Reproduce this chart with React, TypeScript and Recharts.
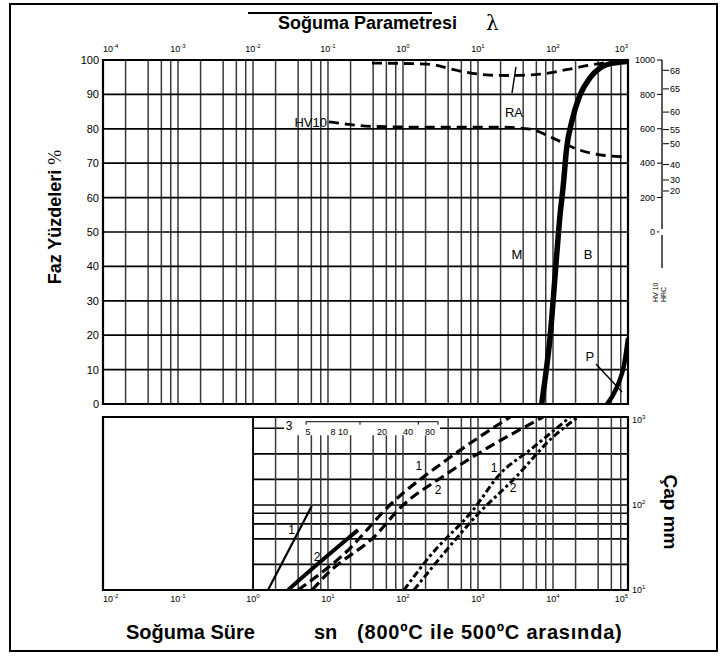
import React from 'react';
import {
  LineChart,
  Line,
  XAxis,
  YAxis,
  CartesianGrid,
  ReferenceArea,
  ReferenceDot,
  ReferenceLine,
} from 'recharts';

// ---------- axes / ticks ----------
// cooling time t (s, 800->500 °C); cooling parameter λ = t / 100
const timeDecades = [0.01, 0.1, 1, 10, 100, 1000, 10000, 100000];
const gridDecades = [0.01, 0.1, 1, 10, 100, 1000, 10000];
const gridMultipliers = [1, 2, 4, 6, 8];
const phaseTicks = [0, 10, 20, 30, 40, 50, 60, 70, 80, 90, 100];
const phaseGrid = [10, 20, 30, 40, 50, 60, 70, 80, 90];
const hvTicks = [0, 200, 400, 600, 800, 1000];
const hrcLabels = [68, 65, 60, 55, 50, 40, 30, 20];
const hrcAsHV = [940, 832, 697, 595, 513, 392, 302, 238];
const diameterTicks = [10, 100, 1000];
const diameterGrid = [20, 40, 60, 80, 100, 200, 400, 800];
const insetLabels = ['5', '8', '10', '20', '40', '80'];
const insetTimes = [5.4, 11.7, 15.8, 52.5, 117, 229];
const insetTickTimes = [5.1, 26.7, 160, 293];

// ---------- top chart curves (t in s, v in %) ----------
const raCurve = [
  { t: 38.6, v: 99.1 }, { t: 209, v: 98.8 }, { t: 575, v: 96.8 }, { t: 1445, v: 95.6 },
  { t: 2670, v: 95.5 }, { t: 6710, v: 95.9 }, { t: 14450, v: 97.1 }, { t: 31150, v: 98.5 },
  { t: 57500, v: 99.4 }, { t: 100000, v: 99.7 },
];
const hv10Curve = [
  { t: 10.3, v: 82.0 }, { t: 16.9, v: 81.4 }, { t: 38.6, v: 80.7 }, { t: 168, v: 80.5 },
  { t: 1965, v: 80.5 }, { t: 4935, v: 79.9 }, { t: 10000, v: 77.3 }, { t: 20900, v: 74.1 },
  { t: 42360, v: 72.4 }, { t: 100000, v: 71.8 },
];
const martensiteBainite = [
  { t: 7065, v: 0 }, { t: 7820, v: 7.0 }, { t: 9120, v: 19.2 }, { t: 11200, v: 43.3 },
  { t: 12400, v: 54.9 }, { t: 13600, v: 62.8 }, { t: 15200, v: 74.4 }, { t: 17750, v: 82.0 },
  { t: 22900, v: 89.8 }, { t: 31100, v: 94.8 }, { t: 42360, v: 97.7 }, { t: 63100, v: 99.1 },
  { t: 100000, v: 99.6 },
];
const pearlite = [
  { t: 52500, v: 0 }, { t: 63100, v: 2.6 }, { t: 75900, v: 6.4 }, { t: 88500, v: 11.3 },
  { t: 100000, v: 19.2 },
];
const raLeader = [{ t: 2840, v: 90.4 }, { t: 3210, v: 98.0 }];
const pLeader = [{ t: 37440, v: 11.6 }, { t: 83200, v: 3.5 }];

// ---------- bottom chart curves (t in s, d in mm) ----------
const solid1 = [{ t: 1.585, d: 10 }, { t: 6.07, d: 97.3 }];
const solid2 = [{ t: 2.93, d: 10 }, { t: 7.82, d: 21.3 }, { t: 25.1, d: 50.8 }];
const dashed1 = [
  { t: 3.98, d: 10 }, { t: 16.9, d: 27.2 }, { t: 71.3, d: 105.6 }, { t: 363, d: 329 }, { t: 2670, d: 1084 },
];
const dashed2 = [
  { t: 6.12, d: 10 }, { t: 10, d: 15.8 }, { t: 46.4, d: 46.9 }, { t: 85.8, d: 87.3 }, { t: 363, d: 225 },
  { t: 7360, d: 1084 },
];
const dotted1 = [
  { t: 103, d: 10 }, { t: 229, d: 25.1 }, { t: 858, d: 87.3 }, { t: 1965, d: 232 }, { t: 4935, d: 444 },
  { t: 16860, d: 1084 },
];
const dotted2 = [
  { t: 140, d: 10 }, { t: 311, d: 23.8 }, { t: 1063, d: 82.8 }, { t: 2930, d: 197 }, { t: 10000, d: 631 },
  { t: 21540, d: 1084 },
];

const topLabels = [
  { t: 3311, v: 43.6, text: 'M' },
  { t: 29300, v: 43.6, text: 'B' },
  { t: 31100, v: 13.7, text: 'P' },
  { t: 3020, v: 84.9, text: 'RA' },
];
const bottomLabels = [
  { t: 3.28, d: 50.8, text: '1' },
  { t: 7.13, d: 24.4, text: '2' },
  { t: 163, d: 288, text: '1' },
  { t: 293, d: 150, text: '2' },
  { t: 1634, d: 272, text: '1' },
  { t: 2930, d: 158, text: '2' },
];

const topGridTimes = gridDecades.flatMap((d) => gridMultipliers.map((m) => d * m)).filter((v) => v > 0.011);
const bottomGridTimes = topGridTimes.filter((v) => v >= 0.999);

const FONT = "'Liberation Sans', Arial, Helvetica, sans-serif";

const PowTick = (props: any) => {
  const { x, y, payload, shift, pos } = props;
  const e = Math.round(Math.log10(payload.value)) + shift;
  const label = e < 0 ? `-${Math.abs(e)}` : `${e}`;
  if (pos === 'right') {
    return (
      <text x={x} y={y + 3} fontSize={9} fill="#000" fontFamily={FONT}>
        10<tspan dy={-4} fontSize={6}>{label}</tspan>
      </text>
    );
  }
  const v = payload.value;
  const anchor = v <= 0.0101 ? 'start' : v >= 99999 ? 'end' : 'middle';
  const by = pos === 'top' ? y : y + 8;
  return (
    <text x={x} y={by} textAnchor={anchor} fontSize={9} fill="#000" fontFamily={FONT}>
      10<tspan dy={-4} fontSize={6}>{label}</tspan>
    </text>
  );
};

const noAnim = { isAnimationActive: false as const, dot: false as const, activeDot: false as const };

export default function App() {
  return (
    <div style={{ position: 'relative', width: 723, height: 659, background: '#fff', fontFamily: FONT }}>
      <style>{'body{margin:0;background:#fff}'}</style>

      {/* top chart: phase percentages */}
      <div style={{ position: 'absolute', left: 0, top: 0 }}>
        <LineChart width={640} height={410} margin={{ top: 40, right: 12, bottom: 6, left: 0 }}>
          <CartesianGrid horizontal={false} verticalValues={topGridTimes} stroke="#3a3a3a" strokeWidth={1.5} />
          <CartesianGrid vertical={false} horizontalValues={phaseGrid} stroke="#000" strokeWidth={1.7} />
          <XAxis
            dataKey="t"
            type="number"
            scale="log"
            domain={[0.01, 100000]}
            allowDataOverflow
            orientation="top"
            ticks={timeDecades}
            interval={0}
            tick={(p: any) => <PowTick {...p} shift={-2} pos="top" />}
            tickLine={false}
            tickSize={0}
            tickMargin={8}
            axisLine={false}
            height={20}
          />
          <YAxis
            type="number"
            domain={[0, 100]}
            ticks={phaseTicks}
            interval={0}
            width={103}
            tickLine={false}
            tickSize={0}
            tickMargin={4}
            axisLine={false}
            tick={{ fontSize: 11, fill: '#000' }}
          />
          <ReferenceArea x1={0.01} x2={100000} y1={0} y2={100} fill="none" stroke="#000" strokeWidth={2.2} />
          <Line data={raCurve} dataKey="v" type="monotone" stroke="#000" strokeWidth={2.8} strokeDasharray="10 6" {...noAnim} />
          <Line data={hv10Curve} dataKey="v" type="monotone" stroke="#000" strokeWidth={2.8} strokeDasharray="10 6" {...noAnim} />
          <Line data={martensiteBainite} dataKey="v" type="monotone" stroke="#000" strokeWidth={5.5} {...noAnim} />
          <Line data={pearlite} dataKey="v" type="monotone" stroke="#000" strokeWidth={4.5} {...noAnim} />
          <Line data={raLeader} dataKey="v" type="linear" stroke="#000" strokeWidth={1.4} {...noAnim} />
          <Line data={pLeader} dataKey="v" type="linear" stroke="#000" strokeWidth={1.4} {...noAnim} />
          <ReferenceDot
            x={10.3}
            y={82}
            r={0}
            fill="none"
            stroke="none"
            label={{ value: 'HV10', position: 'left', offset: 2, fontSize: 13, fill: '#000' }}
          />
          {topLabels.map((l, i) => (
            <ReferenceDot
              key={i}
              x={l.t}
              y={l.v}
              r={0}
              fill="none"
              stroke="none"
              label={{ value: l.text, position: 'center', fontSize: 13, fill: '#000' }}
            />
          ))}
        </LineChart>
      </div>

      {/* HV10 / HRC scale */}
      <div style={{ position: 'absolute', left: 622, top: 52 }}>
        <LineChart width={71} height={220} margin={{ top: 8, right: 0, bottom: 4, left: 0 }}>
          <XAxis dataKey="x" type="number" domain={[0, 1]} hide />
          <YAxis
            yAxisId="hv"
            orientation="left"
            type="number"
            domain={[-210, 1000]}
            ticks={hvTicks}
            interval={0}
            width={40}
            tickSize={5}
            tickMargin={2}
            axisLine={{ stroke: '#000', strokeWidth: 1.3 }}
            tickLine={{ stroke: '#000' }}
            tick={{ fontSize: 9, fill: '#000' }}
          />
          <YAxis
            yAxisId="hrc"
            orientation="right"
            type="number"
            domain={[-210, 1000]}
            ticks={hrcAsHV}
            interval={0}
            width={30}
            tickSize={6}
            tickMargin={1}
            axisLine={false}
            tickLine={{ stroke: '#000' }}
            tick={{ fontSize: 9, fill: '#000' }}
            tickFormatter={(v: number) => String(hrcLabels[hrcAsHV.indexOf(v)])}
          />
          <Line yAxisId="hv" data={[{ x: 0.5, v: 0 }]} dataKey="v" stroke="none" {...noAnim} />
          <Line yAxisId="hrc" data={[{ x: 0.5, v: 0 }]} dataKey="v" stroke="none" {...noAnim} />
        </LineChart>
      </div>

      {/* bottom chart: diameter */}
      <div style={{ position: 'absolute', left: 0, top: 407 }}>
        <LineChart width={668} height={203} margin={{ top: 10, right: 0, bottom: 0, left: 103 }}>
          <CartesianGrid vertical={false} horizontalValues={diameterGrid} stroke="#000" strokeWidth={1.7} />
          <CartesianGrid horizontal={false} verticalValues={bottomGridTimes} stroke="#3a3a3a" strokeWidth={1.5} />
          <XAxis
            dataKey="t"
            type="number"
            scale="log"
            domain={[0.01, 100000]}
            allowDataOverflow
            ticks={timeDecades}
            interval={0}
            tick={(p: any) => <PowTick {...p} shift={0} pos="bottom" />}
            tickLine={false}
            tickSize={0}
            tickMargin={4}
            axisLine={false}
            height={20}
          />
          <YAxis
            orientation="right"
            type="number"
            scale="log"
            domain={[10, 1085]}
            allowDataOverflow
            ticks={diameterTicks}
            interval={0}
            width={40}
            tickLine={false}
            tickSize={0}
            tickMargin={4}
            axisLine={false}
            tick={(p: any) => <PowTick {...p} shift={0} pos="right" />}
          />
          <ReferenceArea x1={0.01} x2={1} y1={10} y2={1085} fill="#fff" fillOpacity={1} stroke="none" />
          <ReferenceArea x1={2.6} x2={311} y1={660} y2={1055} fill="#fff" fillOpacity={1} stroke="none" />
          <ReferenceArea x1={0.01} x2={100000} y1={10} y2={1085} fill="none" stroke="#000" strokeWidth={2.2} />
          <ReferenceLine x={1} stroke="#000" strokeWidth={1.8} />
          <ReferenceLine segment={[{ x: 5.1, y: 955 }, { x: 293, y: 955 }]} stroke="#000" strokeWidth={1} />
          {insetTickTimes.map((t, i) => (
            <ReferenceLine key={i} segment={[{ x: t, y: 955 }, { x: t, y: 880 }]} stroke="#000" strokeWidth={1} />
          ))}
          {insetLabels.map((s, i) => (
            <ReferenceDot
              key={i}
              x={insetTimes[i]}
              y={723}
              r={0}
              fill="none"
              stroke="none"
              label={{ value: s, position: 'center', fontSize: 9, fill: '#000' }}
            />
          ))}
          <ReferenceDot
            x={3.02}
            y={849}
            r={0}
            fill="#fff"
            stroke="none"
            label={{ value: '3', position: 'center', fontSize: 12, fill: '#000' }}
          />
          <Line data={solid1} dataKey="d" type="linear" stroke="#000" strokeWidth={2.2} {...noAnim} />
          <Line data={solid2} dataKey="d" type="monotone" stroke="#000" strokeWidth={4} {...noAnim} />
          <Line data={dashed1} dataKey="d" type="monotone" stroke="#000" strokeWidth={3.2} strokeDasharray="10 5" {...noAnim} />
          <Line data={dashed2} dataKey="d" type="monotone" stroke="#000" strokeWidth={3.2} strokeDasharray="10 5" {...noAnim} />
          <Line data={dotted1} dataKey="d" type="monotone" stroke="#000" strokeWidth={3} strokeDasharray="7 3 3 3" {...noAnim} />
          <Line data={dotted2} dataKey="d" type="monotone" stroke="#000" strokeWidth={3} strokeDasharray="7 3 3 3" {...noAnim} />
          {bottomLabels.map((l, i) => (
            <ReferenceDot
              key={i}
              x={l.t}
              y={l.d}
              r={0}
              fill="none"
              stroke="none"
              label={{ value: l.text, position: 'center', fontSize: 12, fill: '#000' }}
            />
          ))}
        </LineChart>
      </div>

      {/* titles and frame */}
      <svg
        width={723}
        height={659}
        style={{ position: 'absolute', left: 0, top: 0, pointerEvents: 'none' }}
        fontFamily={FONT}
      >
        <rect x={10} y={4} width={707} height={647} fill="none" stroke="#000" strokeWidth={2} />
        <line x1={248} y1={13} x2={432} y2={13} stroke="#000" strokeWidth={2} />
        <text x={278} y={29} fontSize={18} fontWeight="bold" fill="#000">
          Soğuma Parametresi
        </text>
        <text x={486} y={30} fontSize={20} fill="#000" fontFamily="'DejaVu Serif', serif">
          λ
        </text>
        <text transform="translate(61,217) rotate(-90)" textAnchor="middle" fontSize={18} fontWeight="bold" fill="#000">
          Faz Yüzdeleri <tspan fontWeight="normal" fontFamily="'Liberation Serif', serif">%</tspan>
        </text>
        <text transform="translate(664,512) rotate(90)" textAnchor="middle" fontSize={19} fontWeight="bold" fill="#000">
          Çap mm
        </text>
        <text transform="translate(658,302) rotate(-90)" fontSize={7} fill="#000">
          HV 10
        </text>
        <text transform="translate(666,302) rotate(-90)" fontSize={7} fill="#000">
          HRC
        </text>
        <text x={126} y={639} fontSize={20} fontWeight="bold" fill="#000">
          Soğuma Süre
        </text>
        <text x={314} y={639} fontSize={20} fontWeight="bold" fill="#000">
          sn
        </text>
        <text x={357} y={639} fontSize={20} fontWeight="bold" fill="#000" letterSpacing={0.8}>
          (800ºC ile 500ºC arasında)
        </text>
      </svg>
    </div>
  );
}
